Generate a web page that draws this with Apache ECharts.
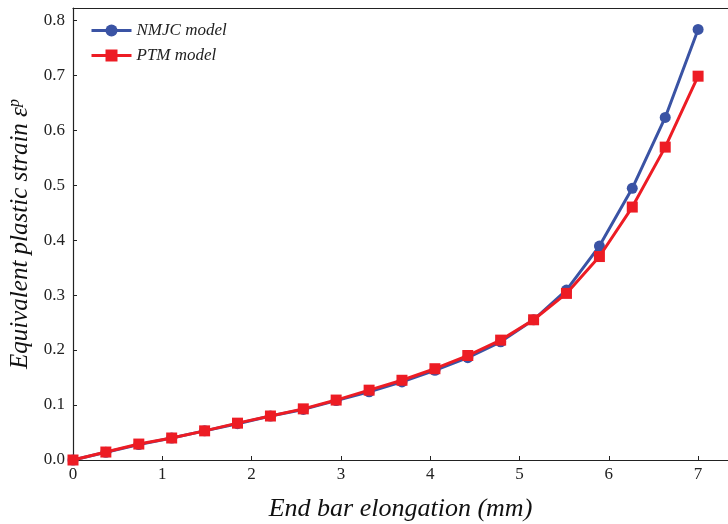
<!DOCTYPE html>
<html><head><meta charset="utf-8">
<script src="https://cdn.jsdelivr.net/npm/echarts@6/dist/echarts.min.js"></script>
<style>html,body{margin:0;padding:0;background:#fff}#c{width:728px;height:524px}</style>
</head><body><div id="c"></div>
<script>
const elongation = [0, 0.368, 0.737, 1.105, 1.474, 1.842, 2.211, 2.579, 2.947, 3.316, 3.684, 4.053, 4.421, 4.789, 5.158, 5.526, 5.895, 6.263, 6.632, 7.0];
const nmjc = [0, 0.014, 0.028, 0.040, 0.053, 0.066, 0.080, 0.092, 0.108, 0.124, 0.142, 0.163, 0.186, 0.215, 0.255, 0.309, 0.389, 0.494, 0.623, 0.783];
const ptm  = [0, 0.0145, 0.029, 0.040, 0.053, 0.067, 0.080, 0.093, 0.109, 0.127, 0.145, 0.166, 0.190, 0.218, 0.255, 0.303, 0.370, 0.460, 0.569, 0.698];
const seriesNames = ['NMJC model', 'PTM model'];

const font = 'Liberation Serif';
const chart = echarts.init(document.getElementById('c'), null, {renderer: 'canvas'});
const pair = (xs, ys) => xs.map((x, i) => [x, ys[i]]);
chart.setOption({
  animation: false,
  backgroundColor: '#fff',
  grid: {left: 73, top: 8, right: 0, bottom: 64, containLabel: false, outerBoundsMode: 'none'},
  legend: {
    left: 85, top: 17, orient: 'vertical', itemGap: 8,
    itemWidth: 40, itemHeight: 15,
    lineStyle: {width: 3},
    textStyle: {fontFamily: font, fontStyle: 'italic', fontSize: 17, color: '#222'},
    data: seriesNames
  },
  xAxis: [{
    type: 'value', min: 0, max: 7.335, interval: 1,
    name: 'End bar elongation (mm)', nameLocation: 'middle', nameGap: 36,
    nameTextStyle: {fontFamily: font, fontStyle: 'italic', fontSize: 26, color: '#111'},
    axisLine: {show: true, lineStyle: {color: '#222', width: 1.2}},
    axisTick: {show: true, inside: true, length: 4, lineStyle: {color: '#222'}},
    axisLabel: {fontFamily: font, fontSize: 17, color: '#222', margin: 6, showMaxLabel: false,
      formatter: v => Math.abs(v - Math.round(v)) < 1e-6 ? String(Math.round(v)) : ''},
    splitLine: {show: false}
  }, {
    type: 'value', position: 'top', min: 0, max: 7.335,
    axisLine: {show: true, onZero: false, lineStyle: {color: '#222', width: 1.2}},
    axisTick: {show: false}, axisLabel: {show: false}, splitLine: {show: false}
  }],
  yAxis: {
    type: 'value', min: 0, max: 0.822, interval: 0.1,
    name: '{t|Equivalent plastic strain }{e|ε}{p|p}', nameLocation: 'middle', nameGap: 40,
    nameTextStyle: {
      fontFamily: font, fontStyle: 'italic', fontSize: 25, color: '#111',
      rich: {
        t: {fontFamily: font, fontStyle: 'italic', fontSize: 25, color: '#111'},
        e: {fontFamily: font, fontStyle: 'italic', fontSize: 25, color: '#111'},
        p: {fontFamily: font, fontStyle: 'italic', fontSize: 16, color: '#111', verticalAlign: 'top', padding: [0,0,10,0]}
      }
    },
    axisLine: {show: true, lineStyle: {color: '#222', width: 1.2}},
    axisTick: {show: true, inside: true, length: 4, lineStyle: {color: '#222'}},
    axisLabel: {fontFamily: font, fontSize: 17, color: '#222', margin: 8, showMaxLabel: false,
      formatter: v => Math.abs(v * 10 - Math.round(v * 10)) < 1e-6 ? v.toFixed(1) : ''},
    splitLine: {show: false}
  },
  series: [{
    name: seriesNames[0], type: 'line', data: pair(elongation, nmjc),
    symbol: 'circle', symbolSize: 11,
    itemStyle: {color: '#3a53a4'}, lineStyle: {color: '#3a53a4', width: 3}, z: 2
  }, {
    name: seriesNames[1], type: 'line', data: pair(elongation, ptm),
    symbol: 'rect', symbolSize: 11,
    itemStyle: {color: '#ed1c24'}, lineStyle: {color: '#ed1c24', width: 3}, z: 3
  }]
});
</script></body></html>
